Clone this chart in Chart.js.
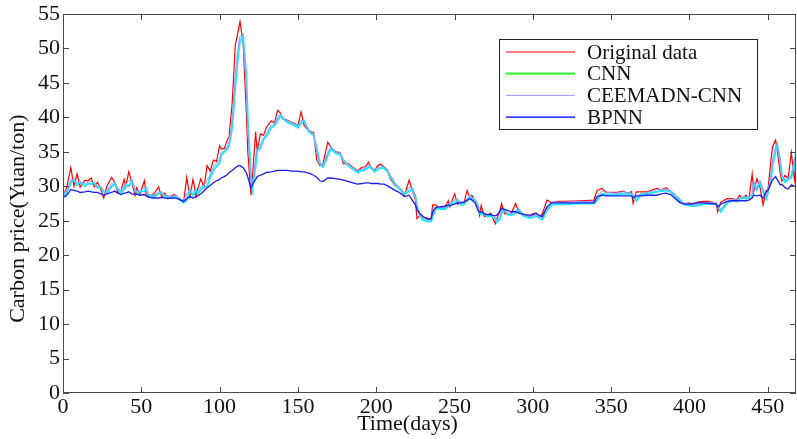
<!DOCTYPE html>
<html>
<head>
<meta charset="utf-8">
<script src="https://cdn.jsdelivr.net/npm/chart.js@4.4.1/dist/chart.umd.min.js"></script>
<style>
  html, body { margin: 0; padding: 0; background: #fff; }
  canvas { display: block; }
</style>
</head>
<body>
<canvas id="priceChart" width="797" height="439"></canvas>
<script>
// sample days (x)
const days = [
  0,2,5,7,9,11,14,16,18,20,22,24,26,28,31,33,35,37,39,40,
  42,44,46,47,49,52,53,55,58,61,63,65,67,69,71,73,77,79,81,83,
  85,86,88,90,92,94,96,98,100,101,103,105,106,108,110,112,113,115,117,118,
  120,121,123,124,126,128,130,133,135,137,139,140,143,146,148,150,152,154,157,160,
  162,164,166,169,171,174,177,179,182,185,188,191,193,195,197,199,201,203,205,207,
  209,212,214,216,218,221,223,225,226,228,230,233,235,236,238,240,244,246,247,250,
  252,254,256,258,260,261,263,265,266,267,269,271,273,276,277,279,280,282,284,286,
  289,291,293,295,298,300,302,304,306,309,312,316,320,330,339,341,344,347,353,358,
  360,363,364,366,369,373,379,382,385,388,391,394,397,400,402,405,409,413,417,418,
  420,424,427,430,432,434,436,438,440,441,443,445,447,449,450,452,453,455,456,458,
  459,461,463,465,467,468
];

const originalData = [
  28.8,29.5,32.7,30.0,31.8,29.9,30.9,30.8,31.2,29.9,30.6,29.6,28.3,30.0,31.3,30.6,29.1,29.3,31.0,29.9,
  32.1,30.5,28.7,29.8,28.8,30.8,28.9,28.4,28.9,29.9,28.4,29.0,28.2,28.6,28.8,28.4,27.7,31.3,28.5,31.0,
  28.5,29.6,31.1,29.8,33.0,32.2,33.8,33.6,35.9,35.4,35.5,36.8,37.1,42.0,50.5,52.7,53.9,50.8,41.0,35.0,
  28.7,31.5,37.9,35.0,37.6,37.4,38.6,39.5,39.2,41.0,40.6,39.8,39.6,39.3,39.1,38.8,40.8,38.8,38.0,37.8,
  33.8,33.0,33.2,36.4,35.7,35.0,34.9,33.3,33.3,32.8,32.3,32.8,32.8,33.5,32.5,32.3,33.0,33.2,32.8,32.3,
  31.1,30.1,29.9,29.4,28.7,30.9,29.4,28.0,25.3,25.8,25.5,25.3,25.2,27.3,27.3,26.8,27.0,27.9,27.0,28.9,
  27.4,27.7,27.6,29.4,28.2,28.7,27.9,27.0,25.8,27.2,25.6,25.8,26.1,24.6,25.3,26.5,27.5,26.0,26.0,26.0,
  27.5,26.3,26.0,25.8,25.6,26.0,26.1,25.5,26.0,28.0,27.6,27.8,27.8,27.9,28.0,29.4,29.7,29.1,29.1,29.3,
  29.0,29.2,27.5,29.2,29.2,29.2,29.7,29.5,29.8,29.2,28.5,27.7,27.5,27.6,27.2,27.7,27.8,27.8,27.5,26.3,
  27.7,28.2,28.2,28.0,28.7,28.2,28.7,28.2,31.8,29.2,31.1,29.9,27.3,29.4,29.2,33.8,35.7,36.7,35.2,31.8,
  30.8,31.6,31.1,34.9,31.0,33.5
];

const cnnData = [
  28.6,28.9,30.5,31.0,30.2,30.6,30.0,30.4,30.3,30.5,29.8,29.9,29.2,29.0,30.0,30.3,29.6,29.0,29.6,30.2,
  30.0,30.8,29.5,29.0,29.2,29.3,29.7,28.6,28.5,28.9,29.1,28.5,28.5,28.3,28.5,28.4,27.6,28.0,29.4,28.7,
  29.5,28.9,29.5,30.0,29.9,31.3,32.3,32.9,33.4,34.5,35.0,35.5,36.0,38.5,44.5,49.5,51.0,51.8,46.0,39.5,
  31.5,29.6,33.0,35.2,35.5,36.8,37.3,38.5,38.8,39.6,40.3,40.0,39.3,39.0,38.8,38.5,39.2,39.5,37.9,37.4,
  35.5,33.3,32.8,34.4,35.5,34.8,34.6,33.8,33.0,32.5,32.0,32.3,32.4,32.8,32.6,32.1,32.4,32.7,32.6,32.2,
  31.4,30.3,29.8,29.4,28.9,29.3,29.6,28.5,27.2,25.6,25.1,24.9,24.9,25.6,26.8,26.7,26.7,27.1,27.4,27.6,
  28.0,27.3,27.4,27.9,28.5,28.1,28.0,27.2,26.2,25.9,26.0,25.6,25.7,25.3,24.8,25.3,26.1,26.6,25.9,25.8,
  26.1,26.6,25.9,25.6,25.4,25.5,25.7,25.4,25.2,26.5,27.3,27.4,27.4,27.5,27.5,28.0,28.9,28.8,28.8,28.9,
  28.9,28.8,28.6,27.9,28.8,28.9,29.2,29.3,29.4,29.2,28.6,27.9,27.3,27.2,27.1,27.2,27.4,27.5,27.4,27.2,
  26.3,27.6,27.9,27.8,28.1,28.4,28.2,28.4,28.6,30.5,29.5,30.6,29.2,28.2,29.0,30.8,33.0,35.2,36.0,33.5,
  31.5,30.6,31.0,31.2,33.6,31.5
];

const ceemdanData = [
  28.9,29.2,31.0,30.8,30.6,30.5,30.4,30.6,30.7,30.3,30.0,30.0,29.3,29.3,30.4,30.6,29.8,29.3,30.0,30.3,
  30.8,30.9,29.5,29.3,29.3,29.8,29.6,28.8,28.7,29.2,29.0,28.8,28.6,28.5,28.7,28.5,27.9,28.9,29.5,29.3,
  29.4,29.2,29.9,30.2,30.8,31.8,32.8,33.3,34.0,34.9,35.2,35.9,36.4,39.5,46.0,50.5,51.8,51.5,44.5,38.5,
  30.5,30.0,34.2,35.5,36.0,37.0,37.7,38.9,39.1,40.0,40.5,40.1,39.6,39.3,39.0,38.8,39.6,39.4,38.2,37.6,
  35.0,33.5,33.0,34.9,35.7,35.1,34.9,33.9,33.2,32.8,32.3,32.5,32.6,33.1,32.8,32.4,32.7,33.0,32.8,32.5,
  31.6,30.5,30.0,29.6,29.0,29.8,29.8,28.7,27.0,25.8,25.4,25.2,25.1,26.0,27.0,26.9,26.9,27.4,27.5,28.0,
  28.1,27.6,27.6,28.3,28.7,28.4,28.1,27.3,26.4,26.2,26.2,25.8,25.9,25.4,25.0,25.7,26.5,26.7,26.1,26.0,
  26.5,26.8,26.1,25.8,25.6,25.7,25.9,25.6,25.5,27.0,27.7,27.7,27.7,27.8,27.8,28.5,29.3,29.1,29.0,29.2,
  29.1,29.0,28.8,28.3,29.0,29.1,29.5,29.5,29.6,29.4,28.8,28.1,27.5,27.4,27.3,27.4,27.6,27.7,27.6,27.3,
  26.7,27.8,28.1,28.0,28.3,28.6,28.4,28.6,28.8,30.8,29.8,30.8,29.6,28.5,29.2,31.5,33.8,35.8,36.1,33.8,
  31.8,30.9,31.3,31.5,34.0,32.0
];

const bpnnData = [
  28.4,28.6,29.5,29.4,29.3,29.1,29.2,29.3,29.2,29.1,29.1,28.9,28.7,28.9,29.1,29.3,29.0,28.8,29.0,29.0,
  29.2,28.9,28.8,28.9,28.7,28.8,28.6,28.4,28.3,28.3,28.4,28.3,28.2,28.3,28.3,28.2,27.8,28.2,28.5,28.3,
  28.5,28.6,28.9,29.3,29.8,30.1,30.5,30.8,31.0,31.2,31.4,31.7,32.0,32.3,32.7,33.0,33.0,32.7,32.0,31.3,
  29.8,30.3,31.0,31.4,31.6,31.8,32.0,32.1,32.2,32.3,32.3,32.3,32.3,32.2,32.2,32.2,32.1,32.1,31.9,31.6,
  31.3,30.8,30.7,31.2,31.2,31.1,31.0,30.9,30.7,30.5,30.3,30.4,30.5,30.5,30.4,30.4,30.4,30.3,30.3,30.1,
  29.8,29.4,29.2,28.9,28.5,28.7,28.0,27.3,26.6,26.0,25.6,25.2,25.3,26.3,26.9,27.0,27.1,27.3,27.2,27.4,
  27.6,27.6,27.7,28.0,28.2,28.0,27.6,26.5,26.2,26.3,26.0,25.9,25.9,25.7,25.8,26.4,26.8,26.6,26.5,26.3,
  26.3,26.1,26.0,25.9,25.8,25.9,26.1,25.8,25.6,27.0,27.6,27.6,27.6,27.6,27.6,28.5,28.7,28.6,28.6,28.6,
  28.6,28.6,28.3,28.6,28.6,28.7,28.7,28.9,29.0,28.8,28.2,27.6,27.4,27.4,27.5,27.6,27.6,27.5,27.4,27.0,
  27.4,27.8,27.9,27.9,27.9,27.9,27.9,28.0,28.3,28.7,28.6,28.7,28.3,29.2,29.4,30.4,30.9,31.4,31.0,30.2,
  30.3,29.8,29.6,30.2,30.0,30.1
];

const xTickValues = [0, 50, 100, 150, 200, 250, 300, 350, 400, 450];
const yTickValues = [0, 5, 10, 15, 20, 25, 30, 35, 40, 45, 50, 55];

const serif = "'Liberation Serif', 'Times New Roman', serif";
const frameColor = '#4a4a4a';
Chart.defaults.font.family = serif;

function toPoints(values) {
  return days.map((d, i) => ({ x: d, y: values[i] }));
}

// box round the plot with MATLAB-style inward ticks
const frame = {
  id: 'frame',
  afterDatasetsDraw(chart) {
    const { ctx, chartArea: a, scales: { x, y } } = chart;
    const tick = 6;
    ctx.save();
    ctx.strokeStyle = frameColor;
    ctx.lineWidth = 1;
    ctx.strokeRect(a.left + 0.5, a.top + 0.5, a.right - a.left - 1, a.bottom - a.top - 1);
    ctx.beginPath();
    xTickValues.forEach(v => {
      const px = Math.round(x.getPixelForValue(v)) + 0.5;
      ctx.moveTo(px, a.bottom); ctx.lineTo(px, a.bottom - tick);
      ctx.moveTo(px, a.top); ctx.lineTo(px, a.top + tick);
    });
    yTickValues.forEach(v => {
      const py = Math.round(y.getPixelForValue(v)) + 0.5;
      ctx.moveTo(a.left, py); ctx.lineTo(a.left + tick, py);
      ctx.moveTo(a.right, py); ctx.lineTo(a.right - tick, py);
    });
    ctx.stroke();
    ctx.restore();
  }
};

// axis titles and the boxed legend in the upper right
const decorations = {
  id: 'decorations',
  afterDraw(chart) {
    const { ctx, chartArea: a } = chart;
    ctx.save();
    ctx.fillStyle = '#111';
    ctx.font = '22px ' + serif;
    ctx.textAlign = 'center';
    ctx.textBaseline = 'middle';
    ctx.fillText('Time(days)', a.left + (a.right - a.left) * 0.47, 424);
    ctx.save();
    ctx.translate(18, a.top + (a.bottom - a.top) * 0.54);
    ctx.rotate(-Math.PI / 2);
    ctx.fillText('Carbon price(Yuan/ton)', 0, 0);
    ctx.restore();

    const bx = a.right - 297, by = 39, bw = 258, bh = 90;
    ctx.fillStyle = '#fff';
    ctx.fillRect(bx, by, bw, bh);
    ctx.strokeStyle = '#222';
    ctx.lineWidth = 1;
    ctx.strokeRect(bx + 0.5, by + 0.5, bw, bh);
    ctx.font = '21px ' + serif;
    ctx.textAlign = 'left';
    const sets = chart.data.datasets;
    sets.forEach((ds, i) => {
      const cy = by + 13 + i * 21.7;
      ctx.strokeStyle = ds.legendColor || ds.borderColor;
      ctx.lineWidth = ds.legendWidth || ds.borderWidth;
      ctx.beginPath();
      ctx.moveTo(bx + 7, cy);
      ctx.lineTo(bx + 76, cy);
      ctx.stroke();
      ctx.fillStyle = '#111';
      ctx.fillText(ds.label, bx + 88, cy + 1);
    });
    ctx.restore();
  }
};

const tickFont = { family: serif, size: 22, lineHeight: 1 };

new Chart(document.getElementById('priceChart'), {
  type: 'line',
  data: {
    datasets: [
      { label: 'Original data', data: toPoints(originalData), borderColor: '#ff0000', borderWidth: 1.2, order: 3 },
      { label: 'CNN', data: toPoints(cnnData), borderColor: '#1ee6ff', legendColor: '#3cf03c', borderWidth: 2, legendWidth: 2.2, order: 2 },
      { label: 'CEEMADN-CNN', data: toPoints(ceemdanData), borderColor: '#9a9aff', borderWidth: 1, order: 1 },
      { label: 'BPNN', data: toPoints(bpnnData), borderColor: '#1c1cf0', borderWidth: 1.3, legendColor: '#4040ff', legendWidth: 1.6, order: 0 }
    ]
  },
  options: {
    responsive: false,
    animation: false,
    devicePixelRatio: 1,
    elements: { point: { radius: 0 }, line: { tension: 0 } },
    layout: { padding: { top: 13, right: 1, left: 0, bottom: 0 } },
    plugins: { legend: { display: false }, tooltip: { enabled: false } },
    scales: {
      x: {
        type: 'linear',
        min: 0,
        max: 468,
        grid: { display: false, drawTicks: false },
        border: { display: false },
        ticks: { font: tickFont, color: '#111', padding: 3, maxRotation: 0, autoSkip: false },
        afterBuildTicks: s => { s.ticks = xTickValues.map(v => ({ value: v })); },
        afterFit: s => { s.height = 46; }
      },
      y: {
        min: 0,
        max: 55,
        grid: { display: false, drawTicks: false },
        border: { display: false },
        ticks: { font: tickFont, color: '#111', padding: 3, autoSkip: false },
        afterBuildTicks: s => { s.ticks = yTickValues.map(v => ({ value: v })); },
        afterFit: s => { s.width = 63; }
      }
    }
  },
  plugins: [frame, decorations]
});
</script>
</body>
</html>
